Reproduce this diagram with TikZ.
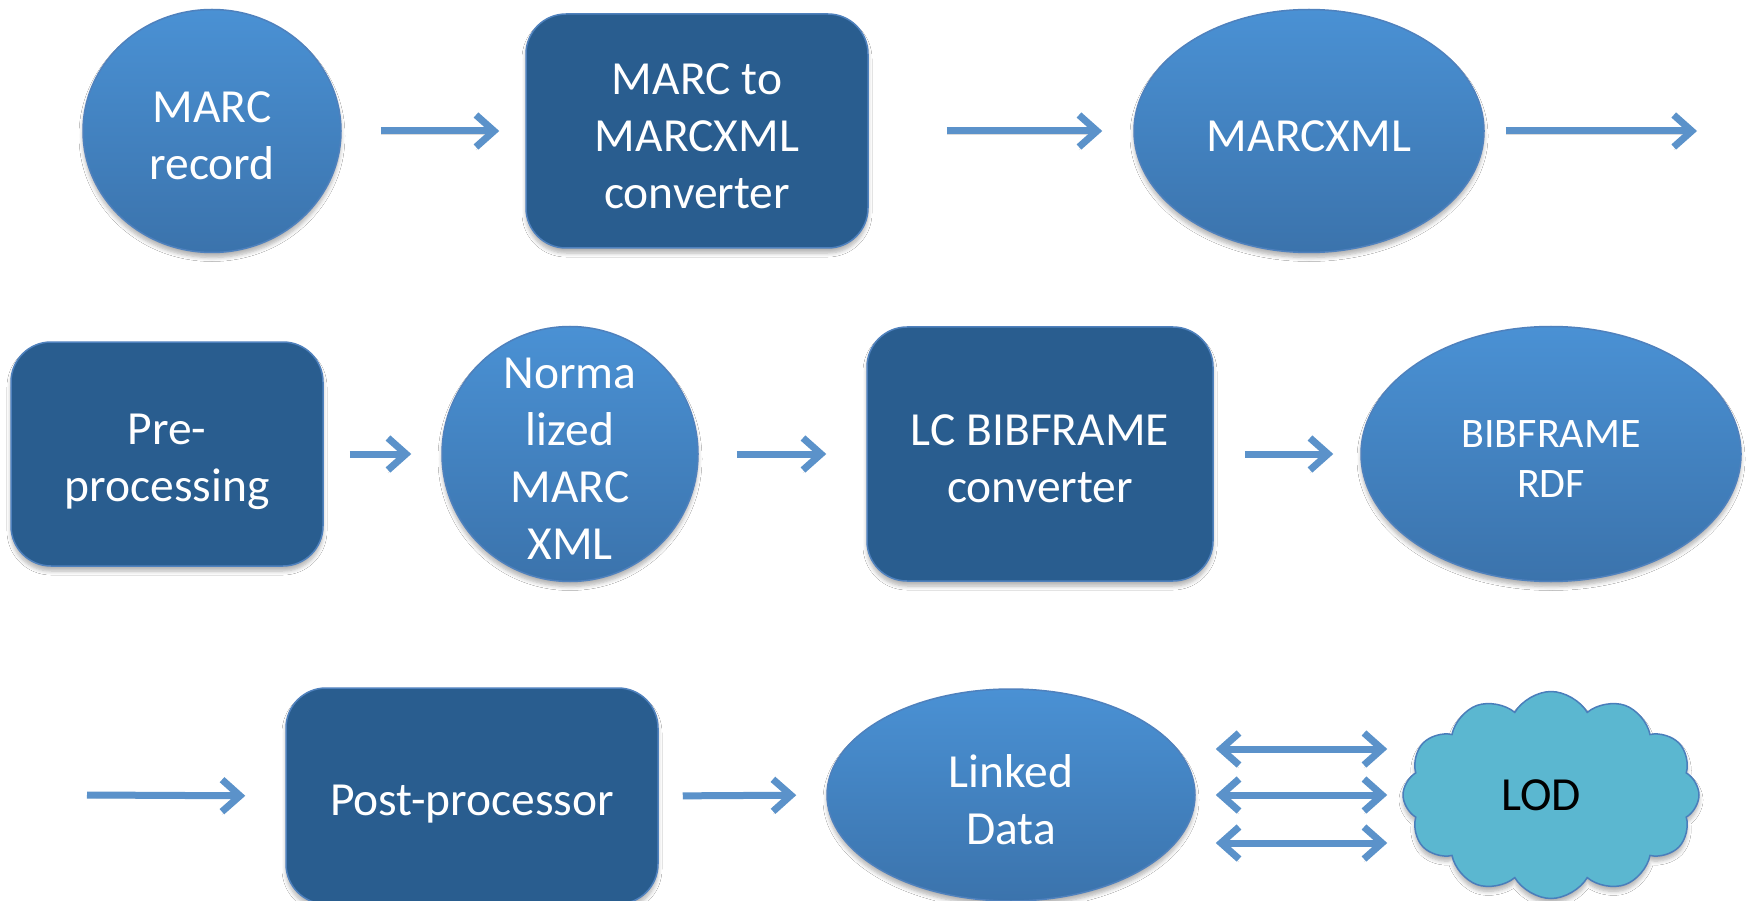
\documentclass[tikz,border=0pt]{standalone}
\usepackage{fontspec}
\setmainfont{Carlito}
\usetikzlibrary{shapes.geometric,shapes.symbols,arrows.meta,shadows.blur}
\definecolor{boxfill}{RGB}{41,93,143}
\definecolor{edgec}{RGB}{79,129,189}
\definecolor{elltop}{RGB}{74,145,212}
\definecolor{ellbot}{RGB}{59,115,172}
\definecolor{arrowc}{RGB}{91,146,202}
\definecolor{cloudfill}{RGB}{91,183,208}
\definecolor{cloudedge}{RGB}{74,126,187}
\begin{document}
\begin{tikzpicture}[x=1pt,y=-1pt,
 shad/.style={blur shadow={shadow xshift=0pt,shadow yshift=-5pt,shadow blur steps=6,shadow opacity=30,shadow blur radius=4pt}},
 ell/.style={ellipse,draw=edgec,line width=1.5pt,top color=elltop,bottom color=ellbot,inner sep=0pt,shad},
 box/.style={rectangle,rounded corners=40pt,draw=edgec,line width=1.5pt,fill=boxfill,inner sep=0pt,shad},
 txt/.style={text=white,font=\fontsize{47.5}{57}\selectfont,align=center,inner sep=0pt,yshift=-5pt},
 arr/.style={draw=arrowc,line width=7pt,-{Straight Barb[length=18pt,width=32pt,line width=7pt]},
   preaction={draw=black,opacity=0.14,transform canvas={yshift=-3pt}}},
 darr/.style={draw=arrowc,line width=7pt,{Straight Barb[length=18pt,width=32pt,line width=7pt]}-{Straight Barb[length=18pt,width=32pt,line width=7pt]},
   preaction={draw=black,opacity=0.14,transform canvas={yshift=-3pt}}}]
\useasboundingbox (0,0) rectangle (1751,901);
\clip (0,0) rectangle (1751,901);
\fill[white] (0,0) rectangle (1751,901);

% row 1
\node[ell,minimum width=258pt,minimum height=243pt] (marc) at (212,131) {};
\node[txt] (marct) at (marc) {MARC\\record};
\node[box,minimum width=342pt,minimum height=234pt] (conv) at (697,131) {};
\node[txt] (convt) at (conv) {MARC to\\MARCXML\\converter};
\node[ell,minimum width=350pt,minimum height=243pt] (mxml) at (1309,131) {};
\node[txt] (mxmlt) at (mxml) {MARCXML};
\coordinate (c1) at (1697,131);

% row 2
\node[box,minimum width=312pt,minimum height=224pt] (pre) at (167,454) {};
\node[txt,yshift=-3pt] (pret) at (pre) {Pre-\\processing};
\node[ell,minimum width=256pt,minimum height=255pt] (norm) at (570,454) {};
\node[txt] (normt) at (norm) {Norma\\lized\\MARC\\XML};
\node[box,minimum width=346pt,minimum height=254pt] (lcbf) at (1040,454) {};
\node[txt] (lcbft) at (lcbf) {LC BIBFRAME\\converter};
\node[ell,minimum width=380pt,minimum height=255pt] (bfrdf) at (1551,454) {};
\node[txt,font=\fontsize{42}{50}\selectfont] (bfrdft) at (bfrdf) {BIBFRAME\\RDF};

% row 3
\coordinate (c3) at (87,795);
\node[box,minimum width=372pt,minimum height=216pt] (post) at (472,796) {};
\node[txt,yshift=-3pt] (postt) at (post) {Post-processor};
\node[ell,minimum width=368pt,minimum height=212pt] (ld) at (1011,795) {};
\node[txt] (ldt) at (ld) {Linked\\Data};
\node[cloud,cloud puffs=12,cloud puff arc=120,cloud ignores aspect,draw=cloudedge,line width=1.5pt,fill=cloudfill,minimum width=296pt,minimum height=207pt,inner sep=0pt,shad] (lod) at (1551,795) {};
\node[txt,text=black,yshift=5pt,xshift=-10pt] (lodt) at (lod) {LOD};

% connectors
\draw[arr,shorten <=39pt,shorten >=26pt] (marc.east) -- (conv.west);
\draw[arr,shorten <=78pt,shorten >=31pt] (conv.east) -- (mxml.west);
\draw[arr,shorten <=21pt] (mxml.east) -- (c1);
\draw[arr,shorten <=26pt,shorten >=30pt] (pre.east) -- (norm.west);
\draw[arr,shorten <=38pt,shorten >=40pt] (norm.east) -- (lcbf.west);
\draw[arr,shorten <=31pt,shorten >=27pt] (lcbf.east) -- (bfrdf.west);
\draw[arr,shorten >=40pt] (c3) -- (post.west);
\draw[arr,shorten <=24pt,shorten >=30pt] (post.east) -- (ld.west);
\draw[darr,shorten <=20pt,shorten >=15pt] ([yshift=46pt]ld.east) -- ([yshift=46pt]lod.west);
\draw[darr,shorten <=20pt,shorten >=15pt] (ld.east) -- (lod.west);
\draw[darr,shorten <=20pt,shorten >=15pt] ([yshift=-48pt]ld.east) -- ([yshift=-48pt]lod.west);
\end{tikzpicture}
\end{document}
